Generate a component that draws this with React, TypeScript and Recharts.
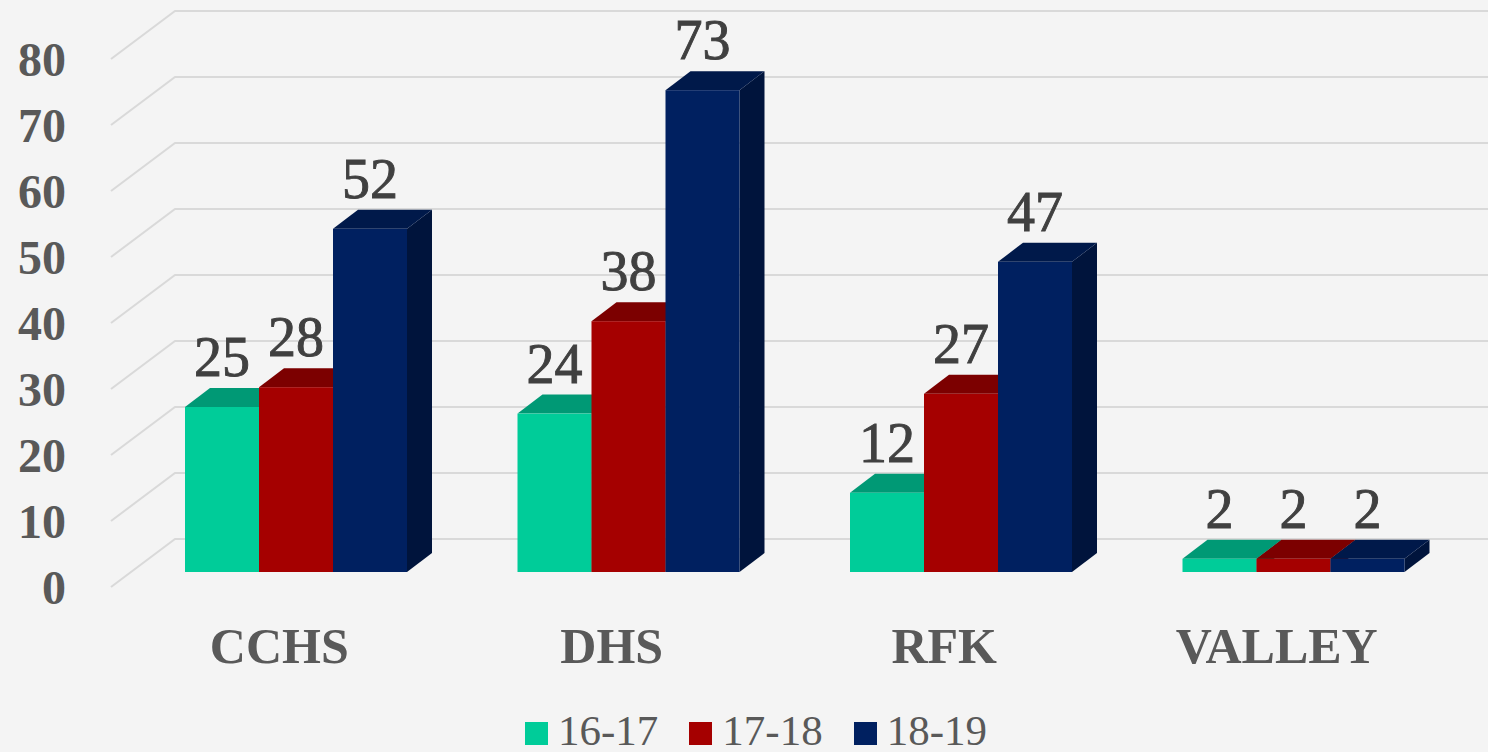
import React from 'react';
import { BarChart, Bar, XAxis, YAxis, CartesianGrid, LabelList, Legend } from 'recharts';

const categories = ['CCHS', 'DHS', 'RFK', 'VALLEY'];
const values1617 = [25, 24, 12, 2];
const values1718 = [28, 38, 27, 2];
const values1819 = [52, 73, 47, 2];
const yTicks = [0, 10, 20, 30, 40, 50, 60, 70, 80];
const seriesNames = ['16-17', '17-18', '18-19'];

const data = categories.map((name, i) => ({
  name,
  s1: values1617[i],
  s2: values1718[i],
  s3: values1819[i],
}));

const FONT = '"Liberation Serif", "Times New Roman", serif';
const DX = 25;
const DY = 19;

const palette = [
  { front: '#00CC99', top: '#009975', side: '#007a5c' },
  { front: '#A50000', top: '#7C0000', side: '#660000' },
  { front: '#002060', top: '#00194A', side: '#00143C' },
];

const make3D = (c: { front: string; top: string; side: string }) => (props: any) => {
  const { x, y, width: w, height: h } = props;
  if (w == null || h == null) return null;
  return (
    <g>
      <path
        d={`M${x + w},${y} L${x + w + DX},${y - DY} L${x + w + DX},${y + h - DY} L${x + w},${y + h} Z`}
        fill={c.side}
      />
      <path
        d={`M${x},${y} L${x + DX},${y - DY} L${x + w + DX},${y - DY} L${x + w},${y} Z`}
        fill={c.top}
      />
      <rect x={x} y={y} width={w} height={h} fill={c.front} />
    </g>
  );
};

const shapes = palette.map((c) => make3D(c));

const ValueLabel = (props: any) => {
  const { x, y, width, value } = props;
  return (
    <text
      x={x + width / 2}
      y={y - 31}
      textAnchor="middle"
      fontFamily={FONT}
      fontSize={56}
      fill="#404040"
      stroke="#404040"
      strokeWidth={0.9}
    >
      {value}
    </text>
  );
};

const GridLine = (props: any) => {
  const { x1, y1, x2 } = props;
  return (
    <path
      d={`M${x1 - 19},${y1 + 15} L${x1 + 45},${y1 - 33} L${x2 + 28},${y1 - 33}`}
      stroke="#d9d9d9"
      strokeWidth={2}
      fill="none"
    />
  );
};

const YTick = (props: any) => {
  const { y, payload } = props;
  return (
    <text
      x={66}
      y={y + 15}
      textAnchor="end"
      dominantBaseline="central"
      fontFamily={FONT}
      fontWeight="bold"
      fontSize={48}
      fill="#595959"
    >
      {payload.value}
    </text>
  );
};

const XTick = (props: any) => {
  const { x, y, payload } = props;
  return (
    <text
      x={x - 17}
      y={y + 91}
      textAnchor="middle"
      fontFamily={FONT}
      fontWeight="bold"
      fontSize={50}
      fill="#595959"
    >
      {payload.value}
    </text>
  );
};

const renderLegend = () => (
  <div
    style={{
      display: 'flex',
      justifyContent: 'center',
      alignItems: 'center',
      gap: 31,
      paddingLeft: 24,
      height: 36,
      fontFamily: FONT,
      fontSize: 43,
      lineHeight: '36px',
      color: '#595959',
    }}
  >
    {seriesNames.map((n, i) => (
      <div key={n} style={{ display: 'flex', alignItems: 'center', height: 36 }}>
        <span
          style={{
            display: 'inline-block',
            width: 23,
            height: 23,
            background: palette[i].front,
            marginRight: 10,
            marginTop: 5,
          }}
        />
        <span>{n}</span>
      </div>
    ))}
  </div>
);

export default function App() {
  return (
    <div
      style={{
        position: 'absolute',
        left: 0,
        top: 0,
        width: 1488,
        height: 752,
        background: '#f4f4f4',
      }}
    >
      <BarChart
        width={1488}
        height={752}
        data={data}
        margin={{ top: 44, right: 28, bottom: 150, left: 70 }}
        barGap={0}
        barSize={74}
      >
        <CartesianGrid vertical={false} horizontal={GridLine as any} />
        <XAxis
          dataKey="name"
          axisLine={false}
          tickLine={false}
          tickSize={0}
          tickMargin={0}
          height={30}
          tick={XTick}
          interval={0}
        />
        <YAxis
          domain={[0, 80]}
          ticks={yTicks}
          axisLine={false}
          tickLine={false}
          width={60}
          tick={YTick}
          interval={0}
        />
        <Legend
          layout="horizontal"
          verticalAlign="middle"
          align="center"
          content={renderLegend}
          wrapperStyle={{ top: 713, left: 0, width: 1488, height: 36 }}
        />
        {['s1', 's2', 's3'].map((k, i) => (
          <Bar
            key={k}
            dataKey={k}
            name={seriesNames[i]}
            fill={palette[i].front}
            shape={shapes[i]}
            isAnimationActive={false}
          >
            <LabelList dataKey={k} content={ValueLabel} />
          </Bar>
        ))}
      </BarChart>
    </div>
  );
}
